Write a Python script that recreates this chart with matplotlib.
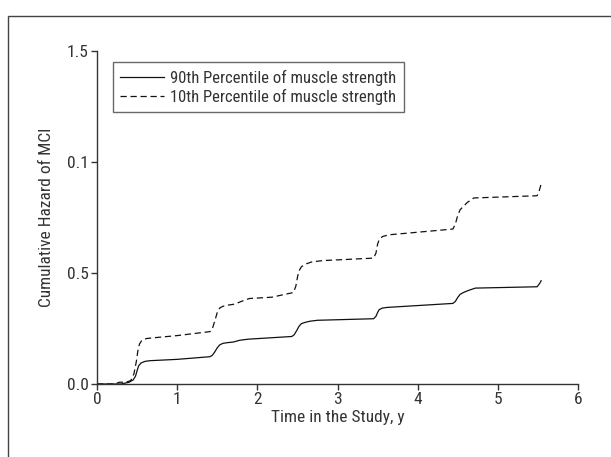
import numpy as np
from matplotlib import pyplot as plt
from matplotlib.patches import Rectangle
from matplotlib import font_manager

# cumulative hazard
t_90 = [0.0, 0.30, 0.40, 0.45, 0.48, 0.50, 0.52, 0.55, 0.60, 0.66, 1.00, 1.41, 1.44, 1.47, 1.50, 1.53, 1.57, 1.62,
        1.70, 1.78, 1.89, 2.43, 2.46, 2.49, 2.52, 2.55, 2.60, 2.66, 2.75, 3.45, 3.48, 3.50, 3.52, 3.56, 3.62,
        4.44, 4.47, 4.50, 4.53, 4.57, 4.63, 4.72, 5.49, 5.52, 5.54]
h_90 = [0.0, 0.0, 0.0008, 0.0018, 0.0035, 0.0060, 0.0082, 0.0095, 0.0102, 0.0105, 0.0111, 0.0123, 0.0130, 0.0145, 0.0163, 0.0176, 0.0183, 0.0186,
        0.0189, 0.0197, 0.0202, 0.0214, 0.0222, 0.0240, 0.0260, 0.0272, 0.0278, 0.0283, 0.0287, 0.0294, 0.0305, 0.0322, 0.0335, 0.0342, 0.0345,
        0.0363, 0.0372, 0.0390, 0.0404, 0.0412, 0.0421, 0.0432, 0.0438, 0.0452, 0.0465]

t_10 = [0.0, 0.22, 0.28, 0.36, 0.42, 0.46, 0.49, 0.51, 0.53, 0.56, 0.62, 0.70, 1.00, 1.41, 1.44, 1.47, 1.50, 1.53, 1.57,
        1.63, 1.72, 1.80, 1.90, 2.18, 2.45, 2.48, 2.50, 2.52, 2.55, 2.60, 2.68, 2.82, 3.45, 3.48, 3.50, 3.52, 3.56,
        3.64, 4.44, 4.47, 4.50, 4.53, 4.57, 4.62, 4.70, 5.49, 5.52, 5.54]
h_10 = [0.0, 0.0, 0.0008, 0.0008, 0.0015, 0.0045, 0.0100, 0.0150, 0.0180, 0.0197, 0.0205, 0.0208, 0.0218, 0.0236, 0.0250, 0.0285, 0.0322, 0.0342, 0.0350,
        0.0355, 0.0360, 0.0372, 0.0385, 0.0391, 0.0412, 0.0440, 0.0480, 0.0510, 0.0528, 0.0540, 0.0550, 0.0556, 0.0567, 0.0590, 0.0630, 0.0650, 0.0664,
        0.0672, 0.0698, 0.0720, 0.0760, 0.0785, 0.0800, 0.0818, 0.0838, 0.0848, 0.0875, 0.0901]

y_ticks = [0.0, 0.05, 0.10, 0.15]
y_labels = ['0.0', '0.5', '0.1', '1.5']

installed = {f.name for f in font_manager.fontManager.ttflist}
narrow = [f for f in ['Liberation Sans Narrow', 'DejaVu Sans Condensed', 'Roboto Condensed', 'Liberation Sans']
          if f in installed]
plt.rcParams['font.family'] = narrow + ['DejaVu Sans']
txt = '#333333'

fig = plt.figure(figsize=(6.11, 4.57), dpi=100)
ax = fig.add_axes([97/611, 1 - 384/457, (578 - 97)/611, (384 - 51)/457])

fig.patches.append(Rectangle((8/611, -0.2), 1.2, 1.2 - 16/457, transform=fig.transFigure,
                             fill=False, edgecolor='#444444', lw=1.0))

ax.plot(t_90, h_90, color='#111111', lw=0.9, label='90th Percentile of muscle strength')
ax.plot(t_10, h_10, color='#111111', lw=0.9, ls=(0, (5, 3)), label='10th Percentile of muscle strength')

ax.set_xlim(0, 6)
ax.set_ylim(0, 0.15)
ax.set_xticks(range(7))
ax.set_yticks(y_ticks)
ax.set_yticklabels(y_labels)
ax.spines['top'].set_visible(False)
ax.spines['right'].set_visible(False)
for s in ('left', 'bottom'):
    ax.spines[s].set_color('#333333')
    ax.spines[s].set_linewidth(1.0)
ax.tick_params(direction='out', length=4, width=1.0, colors='#333333', labelsize=12.5, labelcolor=txt, pad=2)
ax.set_xlabel('Time in the Study, y', fontsize=12.5, color=txt, labelpad=2)
ax.set_ylabel('Cumulative Hazard of MCI', fontsize=12.5, color=txt, labelpad=9)

leg = ax.legend(loc='upper left', bbox_to_anchor=(0.033, 0.967), borderaxespad=0, fontsize=12, frameon=True,
                fancybox=False, edgecolor='#444444', handlelength=2.6, handletextpad=0.4, borderpad=0.45,
                labelspacing=0.2)
leg.get_frame().set_linewidth(1.0)
for tx in leg.get_texts():
    tx.set_color(txt)

plt.savefig('out.png', dpi=100)
